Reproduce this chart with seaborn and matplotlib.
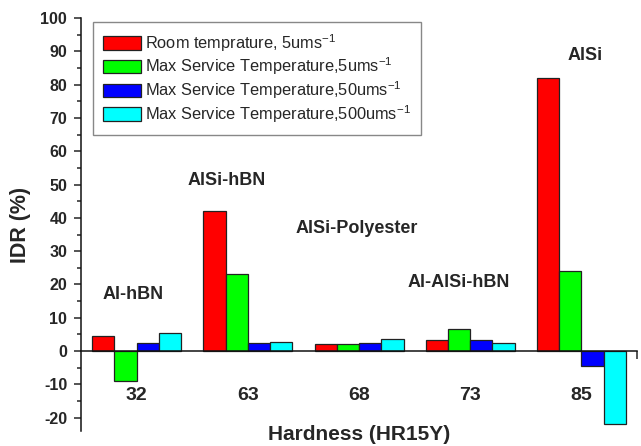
import matplotlib
matplotlib.use("Agg")
import matplotlib.pyplot as plt
import seaborn as sns
import pandas as pd

# values
hardness = ["32", "63", "68", "73", "85"]
conditions = [
    "Room temprature, 5ums$^{-1}$",
    "Max Service Temperature,5ums$^{-1}$",
    "Max Service Temperature,50ums$^{-1}$",
    "Max Service Temperature,500ums$^{-1}$",
]
room_5 = [4.6, 42.1, 2.1, 3.4, 82.1]
max_5 = [-8.9, 23.1, 2.2, 6.7, 24.1]
max_50 = [2.4, 2.4, 2.4, 3.4, -4.6]
max_500 = [5.4, 2.7, 3.6, 2.4, -21.9]
coatings = ["Al-hBN", "AlSi-hBN", "AlSi-Polyester", "Al-AlSi-hBN", "AlSi"]
label_x = [-0.03, 0.81, 1.98, 2.90, 4.03]
label_y = [17.1, 51.2, 36.8, 20.7, 88.6]

COLORS = ["#FF0000", "#00FF00", "#0000FF", "#00FFFF"]

sns.set_style("ticks")
plt.rcParams["font.family"] = ["Liberation Sans", "DejaVu Sans"]
plt.rcParams["mathtext.fontset"] = "custom"
plt.rcParams["mathtext.rm"] = "Liberation Sans"
plt.rcParams["mathtext.it"] = "Liberation Sans"
plt.rcParams["axes.unicode_minus"] = False

rows = []
for cond, vals in zip(conditions, [room_5, max_5, max_50, max_500]):
    for h, v in zip(hardness, vals):
        rows.append({"Hardness": h, "Condition": cond, "IDR": v})
df = pd.DataFrame(rows)

fig = plt.figure(figsize=(6.41, 4.46), dpi=100)
ax = fig.add_axes([0.1264, 0.0336, 0.8674, 0.926])

sns.barplot(data=df, x="Hardness", y="IDR", hue="Condition", order=hardness,
            hue_order=conditions, palette=COLORS, width=0.8, gap=0,
            edgecolor="#222222", linewidth=0.9, saturation=1, ax=ax,
            errorbar=None)

ax.set_xlim(-0.5, 4.5)
ax.set_ylim(-24, 100)
ax.set_yticks(range(-20, 101, 10))
ax.set_yticks(range(-20, 101, 5), minor=True)
ax.set_xticks([4.5], minor=True)

ax.spines["top"].set_visible(False)
ax.spines["right"].set_visible(False)
ax.spines["bottom"].set_position(("data", 0))
for s in ["left", "bottom"]:
    ax.spines[s].set_linewidth(1.1)
    ax.spines[s].set_color("#111111")

ax.tick_params(axis="y", which="major", direction="out", length=5, width=1.1,
               labelsize=11.5, pad=5)
ax.tick_params(axis="y", which="minor", direction="out", length=3, width=1.1)
ax.tick_params(axis="x", which="major", length=0, labelsize=14, pad=26)
ax.tick_params(axis="x", which="minor", direction="out", length=6, width=1.1)
for lab in ax.get_xticklabels() + ax.get_yticklabels():
    lab.set_fontweight("bold")

ax.set_xlabel("Hardness (HR15Y)", fontsize=15, fontweight="bold")
ax.xaxis.set_label_coords(0.5, 0.015)
ax.set_ylabel("IDR (%)", fontsize=15.5, fontweight="bold")
ax.yaxis.set_label_coords(-0.09, 0.5)

for name, x, y in zip(coatings, label_x, label_y):
    ax.text(x, y, name, ha="center", va="center", fontsize=13, fontweight="bold")

leg = ax.legend(loc="upper left", bbox_to_anchor=(0.0216, 0.99), borderaxespad=0,
                fontsize=11.8, frameon=True, fancybox=False, framealpha=1,
                edgecolor="#888888", handlelength=2.3, handleheight=0.85,
                handletextpad=0.3, borderpad=0.6, labelspacing=0.12, title=None)
leg.get_frame().set_linewidth(1.0)

fig.savefig("out.png", dpi=100)
